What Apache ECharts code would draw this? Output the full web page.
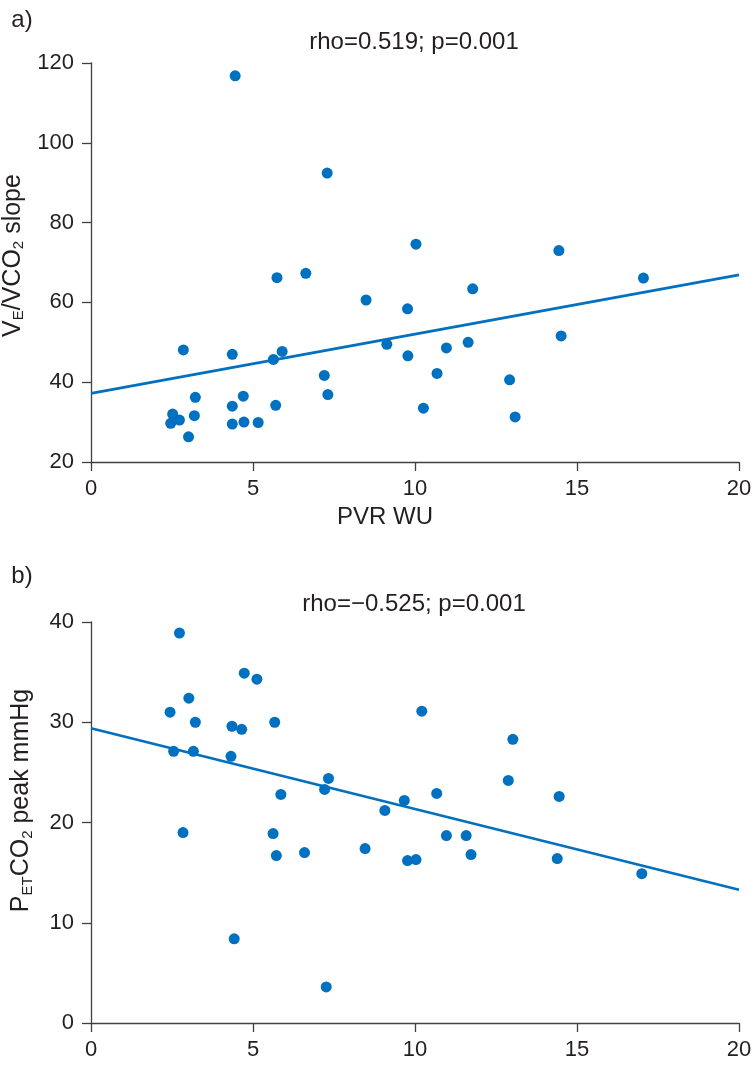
<!DOCTYPE html>
<html>
<head>
<meta charset="utf-8">
<script src="https://cdn.jsdelivr.net/npm/echarts@6/dist/echarts.min.js"></script>
<style>
html,body{margin:0;padding:0;background:#fff;}
#c{width:755px;height:1066px;}
</style>
</head>
<body>
<div id="c"></div>
<script>
// Panel a) PVR (WU) vs VE/VCO2 slope
const pvrA = [2.46,2.52,2.73,2.85,3.01,3.22,3.19,4.36,4.36,4.36,4.70,4.72,5.16,5.74,6.63,8.49,5.63,5.90,5.70,7.20,7.31,4.45,7.29,9.77,9.13,9.78,10.26,10.68,10.97,11.64,11.78,12.92,13.09,14.51,17.05,14.44,10.03];
const slopeA = [29.7,32.0,30.5,48.1,26.3,36.2,31.6,47.0,34.0,29.5,36.5,30.0,29.9,66.2,67.3,60.6,45.7,47.7,34.2,41.7,36.9,116.8,92.4,58.4,49.5,46.6,33.5,42.2,48.6,50.0,63.4,40.6,31.3,51.6,66.1,73.0,74.6];
const fitA_x = [0, 20];
const fitA_y = [37.2, 66.9];

// Panel b) PVR (WU) vs PETCO2 peak mmHg
const pvrB = [2.73,2.44,3.02,3.22,2.55,3.16,4.73,5.12,4.35,4.65,5.67,4.32,5.86,7.33,7.21,2.84,5.62,5.72,6.59,8.46,4.42,7.26,10.21,13.02,12.88,10.67,9.67,9.07,14.45,10.97,11.58,11.73,9.77,10.03,14.39,17.00];
const petB = [38.9,31.0,32.4,30.0,27.1,27.1,34.9,34.3,29.6,29.3,30.0,26.6,22.8,24.4,23.3,19.0,18.9,16.7,17.0,17.4,8.4,3.6,31.1,28.3,24.2,22.9,22.2,21.2,22.6,18.7,18.7,16.8,16.2,16.3,16.4,14.9];
const fitB_x = [0, 20];
const fitB_y = [29.4, 13.3];

const xTicks = [0, 5, 10, 15, 20];
const yTicksA = [20, 40, 60, 80, 100, 120];
const yTicksB = [0, 10, 20, 30, 40];

const labelA = 'a)';
const labelB = 'b)';
const statA = 'rho=0.519; p=0.001';
const statB = 'rho=\u22120.525; p=0.001';
const xName = 'PVR WU';

const FONT = '"Liberation Sans", Arial, sans-serif';
const TXT = '#231f20';
const AX = '#404040';
const BLUE = '#0070c0';

function zip(a, b){ return a.map((v,i)=>[v,b[i]]); }

const chart = echarts.init(document.getElementById('c'), null, {renderer:'canvas'});

const axisCommon = {
  axisLine:{show:true, onZero:false, lineStyle:{color:AX, width:1.3}},
  axisTick:{show:true, length:9, lineStyle:{color:AX, width:1.3}},
  splitLine:{show:false},
  axisLabel:{color:TXT, fontSize:22, fontFamily:FONT}
};

const richA = {
  n:{fontSize:25, fontFamily:FONT, color:TXT, lineHeight:27},
  s:{fontSize:15, fontFamily:FONT, color:TXT, lineHeight:12, verticalAlign:'bottom'}
};

chart.setOption({
  animation:false,
  backgroundColor:'#fff',
  grid:[
    {left:91, right:16, top:63, height:399, outerBoundsMode:'none', containLabel:false},
    {left:91, right:16, top:622, height:401, outerBoundsMode:'none', containLabel:false}
  ],
  xAxis:[
    Object.assign({}, axisCommon, {gridIndex:0, type:'value', min:xTicks[0], max:xTicks[xTicks.length-1], interval:5,
      axisLabel:Object.assign({}, axisCommon.axisLabel, {margin:16}),
      name:xName, nameLocation:'middle', nameGap:43,
      nameTextStyle:{fontSize:24, fontFamily:FONT, color:TXT, padding:[0,60,0,0]}}),
    Object.assign({}, axisCommon, {gridIndex:1, type:'value', min:xTicks[0], max:xTicks[xTicks.length-1], interval:5,
      axisLabel:Object.assign({}, axisCommon.axisLabel, {margin:16})})
  ],
  yAxis:[
    Object.assign({}, axisCommon, {gridIndex:0, type:'value', min:yTicksA[0], max:yTicksA[yTicksA.length-1], interval:20,
      axisLabel:Object.assign({}, axisCommon.axisLabel, {margin:17}),
      name:'{n|V}{s|E}{n|/VCO}{s|2}{n| slope}', nameLocation:'middle', nameGap:56,
      nameTextStyle:{rich:richA, padding:[0,0,0,14]}}),
    Object.assign({}, axisCommon, {gridIndex:1, type:'value', min:yTicksB[0], max:yTicksB[yTicksB.length-1], interval:10,
      axisLabel:Object.assign({}, axisCommon.axisLabel, {margin:17}),
      name:'{n|P}{s|ET}{n|CO}{s|2}{n| peak mmHg}', nameLocation:'middle', nameGap:56,
      nameTextStyle:{rich:richA, padding:[0,0,0,44]}})
  ],
  series:[
    {type:'line', xAxisIndex:0, yAxisIndex:0, data:zip(fitA_x, fitA_y), symbol:'none',
      lineStyle:{color:BLUE, width:2.6}, z:2},
    {type:'scatter', xAxisIndex:0, yAxisIndex:0, data:zip(pvrA, slopeA), symbolSize:11,
      itemStyle:{color:BLUE, opacity:1}, z:3},
    {type:'line', xAxisIndex:1, yAxisIndex:1, data:zip(fitB_x, fitB_y), symbol:'none',
      lineStyle:{color:BLUE, width:2.6}, z:2},
    {type:'scatter', xAxisIndex:1, yAxisIndex:1, data:zip(pvrB, petB), symbolSize:11,
      itemStyle:{color:BLUE, opacity:1}, z:3}
  ],
  graphic:[
    {type:'text', x:22, y:20, style:{text:labelA, fontSize:24, fontFamily:FONT, fill:TXT, align:'center', verticalAlign:'middle'}},
    {type:'text', x:414, y:42, style:{text:statA, fontSize:24, fontFamily:FONT, fill:TXT, align:'center', verticalAlign:'middle'}},
    {type:'text', x:22, y:576, style:{text:labelB, fontSize:24, fontFamily:FONT, fill:TXT, align:'center', verticalAlign:'middle'}},
    {type:'text', x:414, y:604, style:{text:statB, fontSize:24, fontFamily:FONT, fill:TXT, align:'center', verticalAlign:'middle'}}
  ]
});
</script>
</body>
</html>
